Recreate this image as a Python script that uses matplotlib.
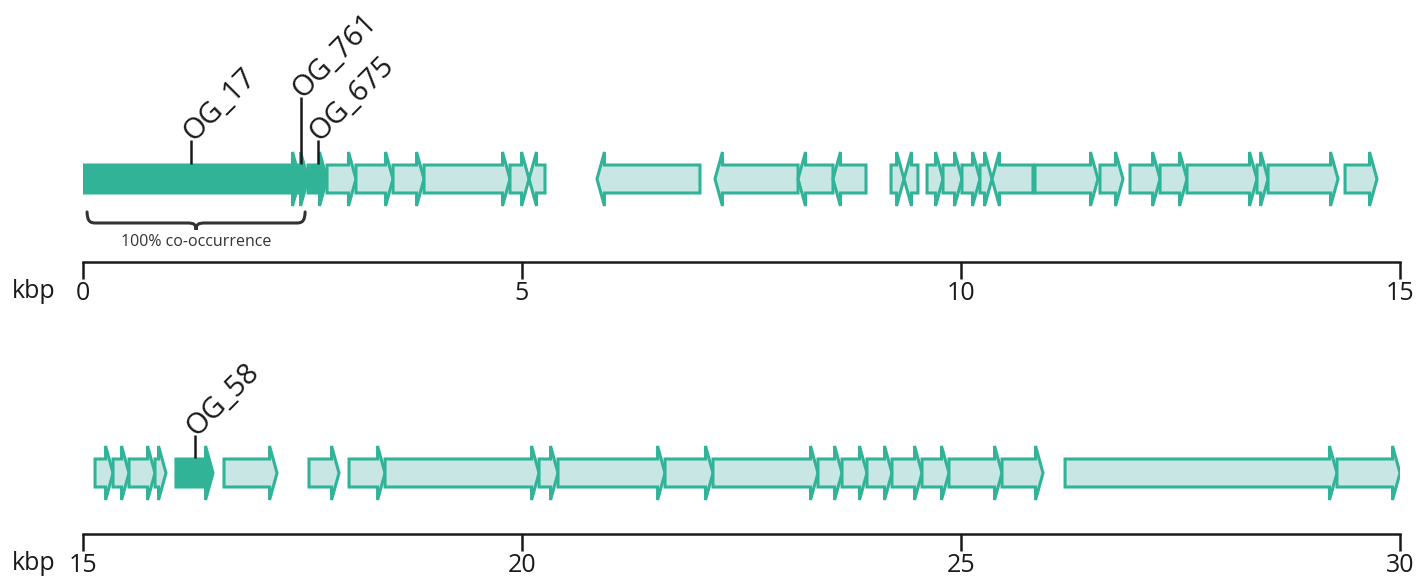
import matplotlib.pyplot as plt
from matplotlib.patches import Polygon, PathPatch
from matplotlib.path import Path

plt.rcParams['font.family'] = ['Open Sans', 'DejaVu Sans']

# -------------------------------
# Gene data (kbp)
# -------------------------------
top_starts = [0.00, 2.40, 2.563, 2.779, 3.109, 3.531, 3.884, 4.863, 5.080,
              5.854, 7.198, 8.144, 8.542, 9.203, 9.351, 9.613, 9.795, 10.011,
              10.216, 10.353, 10.843, 11.583, 11.925, 12.267, 12.574, 13.371,
              13.497, 14.374]
top_ends = [2.471, 2.563, 2.779, 3.109, 3.531, 3.884, 4.863, 5.080, 5.262,
            7.027, 8.144, 8.542, 8.918, 9.351, 9.510, 9.795, 10.011, 10.216,
            10.353, 10.820, 11.560, 11.845, 12.267, 12.574, 13.371, 13.497,
            14.294, 14.738]
top_strand = [1, 1, 1, 1, 1, 1, 1, 1, -1,
              -1, -1, -1, -1, 1, -1, 1, 1, 1,
              1, -1, 1, 1, 1, 1, 1, 1,
              1, 1]
top_hits = {0: 'OG_17', 1: 'OG_761', 2: 'OG_675'}

bot_starts = [15.137, 15.342, 15.524, 15.820, 16.059, 16.606, 17.574, 18.030,
              18.440, 20.194, 20.410, 21.629, 22.175, 23.371, 23.645, 23.929,
              24.214, 24.556, 24.863, 25.467, 26.185, 29.282]
bot_ends = [15.342, 15.524, 15.820, 15.945, 16.481, 17.210, 17.916, 18.440,
            20.194, 20.410, 21.629, 22.175, 23.371, 23.645, 23.929, 24.214,
            24.556, 24.863, 25.467, 25.934, 29.282, 30.0]
bot_strand = [1] * len(bot_starts)
bot_hits = {4: 'OG_58'}

top_ticks = [0, 5, 10, 15]
bot_ticks = [15, 20, 25, 30]

DARK = '#31b398'
LIGHT = '#c8e6e3'
TXT = '#1a1a1a'
HEAD = 0.085   # arrow head length, kbp

W, H = 1420, 583
fig = plt.figure(figsize=(W / 100, H / 100), dpi=100)


def gene_poly(s, e, strand, yc, bh=14, hh=27):
    hl = min(HEAD, e - s)
    if strand > 0:
        b = e - hl
        pts = [(s, yc - bh), (b, yc - bh), (b, yc - hh), (e, yc),
               (b, yc + hh), (b, yc + bh), (s, yc + bh)]
    else:
        b = s + hl
        pts = [(e, yc - bh), (b, yc - bh), (b, yc - hh), (s, yc),
               (b, yc + hh), (b, yc + bh), (e, yc + bh)]
    return pts


def draw_row(ax, starts, ends, strands, hits, yc, line_tops):
    for i, (s, e, st) in enumerate(zip(starts, ends, strands)):
        fc = DARK if i in hits else LIGHT
        ax.add_patch(Polygon(gene_poly(s, e, st, yc), closed=True, fc=fc,
                             ec=DARK, lw=2.2, joinstyle='miter'))
    for i, name in hits.items():
        xm = (starts[i] + ends[i]) / 2
        y0 = yc + 15
        y1 = line_tops[i]
        ax.plot([xm, xm], [y0, y1], color=TXT, lw=1.8, solid_capstyle='butt')
        ax.text(xm - 0.04, y1 + 3, name, rotation=45, rotation_mode='anchor',
                ha='left', va='center', fontsize=21, color=TXT)


def setup_axis(ax, lo, hi, ticks, ytop):
    ax.set_xlim(lo, hi)
    ax.set_ylim(0, ytop)
    for sp in ['left', 'right', 'top']:
        ax.spines[sp].set_visible(False)
    ax.spines['bottom'].set_linewidth(1.8)
    ax.spines['bottom'].set_color(TXT)
    ax.set_yticks([])
    ax.set_xticks(ticks)
    ax.set_xticklabels([str(t) for t in ticks])
    ax.tick_params(axis='x', direction='out', length=12.5, width=1.8,
                   color=TXT, labelsize=18, labelcolor=TXT, pad=1)
    ax.patch.set_visible(False)


# -------------------------------
# Top row
# -------------------------------
ax1 = fig.add_axes([83 / W, 1 - 262 / H, 1317 / W, 262 / H])
setup_axis(ax1, 0, 15, top_ticks, 262)
draw_row(ax1, top_starts, top_ends, top_strand, top_hits, 83,
         {0: 122, 1: 165, 2: 122})

# brace under the co-occurring block
x0, x1 = 0.046, 2.53
xc = (x0 + x1) / 2
yt, ym, yb = 50, 39, 32
r = 0.1
verts = [(x0, yt), (x0 + 0.005, ym + 2), (x0 + 0.03, ym), (x0 + r, ym),
         (xc - r, ym),
         (xc - 0.03, ym), (xc, ym - 1), (xc, yb),
         (xc, ym - 1), (xc + 0.03, ym), (xc + r, ym),
         (x1 - r, ym),
         (x1 - 0.03, ym), (x1 - 0.005, ym + 2), (x1, yt)]
codes = [Path.MOVETO, Path.CURVE4, Path.CURVE4, Path.CURVE4,
         Path.LINETO,
         Path.CURVE4, Path.CURVE4, Path.CURVE4,
         Path.CURVE4, Path.CURVE4, Path.CURVE4,
         Path.LINETO,
         Path.CURVE4, Path.CURVE4, Path.CURVE4]
ax1.add_patch(PathPatch(Path(verts, codes), fc='none', ec='#333333', lw=2.2,
                        capstyle='round'))
ax1.text(xc, 20, '100% co-occurrence', ha='center', va='center',
         fontsize=11.5, color='#333333')

# -------------------------------
# Bottom row
# -------------------------------
ax2 = fig.add_axes([83 / W, 1 - 534 / H, 1317 / W, 234 / H])
setup_axis(ax2, 15, 30, bot_ticks, 234)
draw_row(ax2, bot_starts, bot_ends, bot_strand, bot_hits, 61, {4: 99})

fig.text(34 / W, 1 - 292 / H, 'kbp', ha='center', va='center', fontsize=18,
         color=TXT)
fig.text(34 / W, 1 - 564 / H, 'kbp', ha='center', va='center', fontsize=18,
         color=TXT)

fig.savefig('out.png', dpi=100)
